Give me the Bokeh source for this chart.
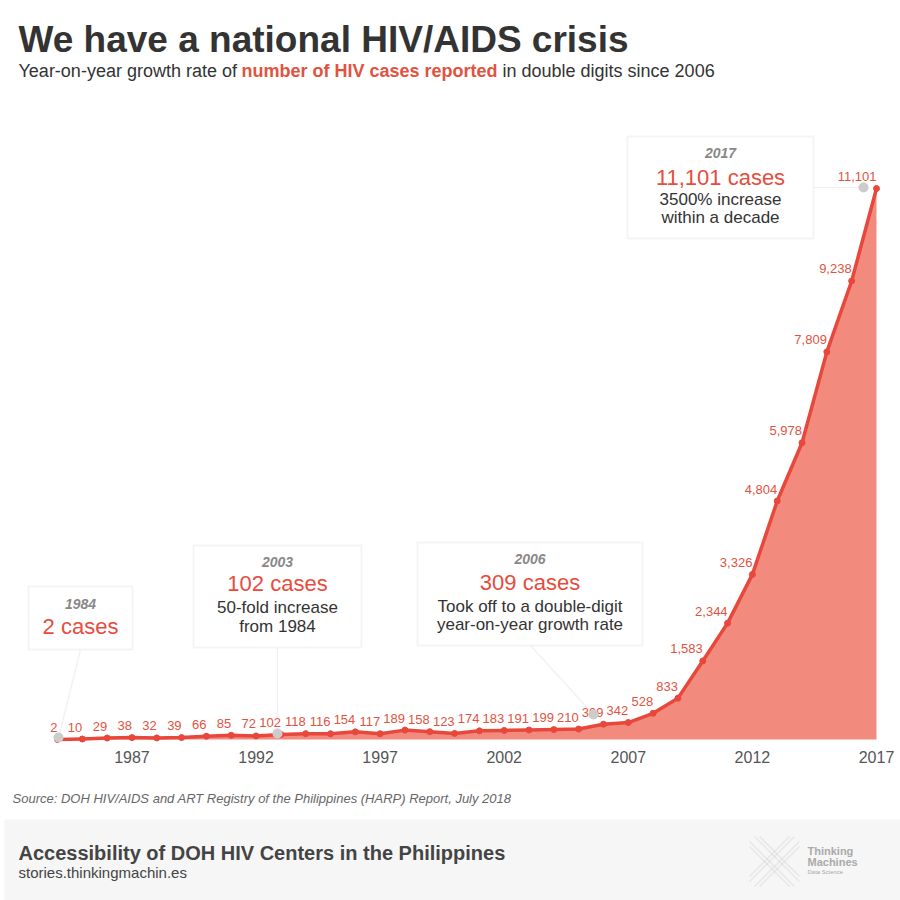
from bokeh.plotting import figure
from bokeh.layouts import column
from bokeh.models import Range1d, FixedTicker, Label, BoxAnnotation, PolyAnnotation, ColumnDataSource
from bokeh.core.properties import value
from bokeh.embed import file_html
from bokeh.resources import INLINE

# ---------------- data ----------------
years = list(range(1984, 2018))
cases = [2, 10, 29, 38, 32, 39, 66, 85, 72, 102,
         118, 116, 154, 117, 189, 158, 123, 174, 183, 191,
         199, 210, 309, 342, 528, 833, 1583, 2344, 3326, 4804,
         5978, 7809, 9238, 11101]
tick_years = [1987, 1992, 1997, 2002, 2007, 2012, 2017]

title = "We have a national HIV/AIDS crisis"
subtitle_parts = ["Year-on-year growth rate of", "number of HIV cases reported", "in double digits since 2006"]
source_text = "Source: DOH HIV/AIDS and ART Registry of the Philippines (HARP) Report, July 2018"
footer_title = "Accessibility of DOH HIV Centers in the Philippines"
footer_url = "stories.thinkingmachin.es"

callout_years = ["1984", "2003", "2006", "2017"]
callout_heads = ["2 cases", "102 cases", "309 cases", "11,101 cases"]
callout_bodies = [[], ["50-fold increase", "from 1984"],
                  ["Took off to a double-digit", "year-on-year growth rate"],
                  ["3500% increase", "within a decade"]]

# ---------------- styling / layout ----------------
FONT = "Liberation Sans"
RED_LINE = "#e8473b"
RED_FILL = "#f28b7e"
RED_TEXT = "#e2533f"
W = 900
HEAD_H = 95          # header band: page y 0..95
CHART_BOTTOM = 780   # chart figure: page y 95..780
FRAME_BOTTOM = 744   # chart frame bottom (page y)
FOOT_H = 900 - CHART_BOTTOM
BASE_FIX = 0.38      # empirical shift so the given y is the alphabetic baseline


def bare_fig(h):
    f = figure(width=W, height=h, output_backend="svg", toolbar_location=None,
               x_range=Range1d(0, W), y_range=Range1d(0, h),
               min_border=0, x_axis_location=None, y_axis_location=None)
    f.outline_line_color = None
    f.grid.visible = False
    f.border_fill_color = "white"
    f.background_fill_color = "white"
    return f


class Canvas:
    def __init__(self, fig, bottom):
        self.f, self.bottom = fig, bottom

    def sy(self, py):
        return self.bottom - py

    def label(self, px, py, text, size, color="#333333", style="normal", align="left"):
        py = py - BASE_FIX * size
        self.f.add_layout(Label(x=px, y=self.sy(py), x_units="screen", y_units="screen",
                                text=text, text_font=FONT, text_font_size=f"{size}px", text_color=color,
                                text_font_style=style, text_align=align, text_baseline="alphabetic"))

    def seg(self, x0, y0, x1, y1, color="#cccccc", width=1.2):
        self.f.add_layout(PolyAnnotation(xs=[x0, x1], ys=[self.sy(y0), self.sy(y1)],
                                         xs_units="screen", ys_units="screen",
                                         fill_alpha=0, line_color=color, line_width=width))

    def box(self, l, t, r, b, fill="white", line="#d9d9d9", lw=2, radius=0):
        self.f.add_layout(BoxAnnotation(left=l, right=r, top=self.sy(t), bottom=self.sy(b),
                                        left_units="screen", right_units="screen",
                                        top_units="screen", bottom_units="screen",
                                        fill_color=fill, fill_alpha=1, line_color=line, line_width=lw,
                                        border_radius=radius))


# ---------------- header ----------------
head = bare_fig(HEAD_H)
hc = Canvas(head, HEAD_H)
hc.label(18, 53, title, 37, "#333333", "bold")
hc.label(18, 77, subtitle_parts[0], 18, "#333333")
hc.label(241, 77, subtitle_parts[1], 18, RED_TEXT, "bold")
hc.label(502, 77, subtitle_parts[2], 18, "#333333")

# ---------------- chart ----------------
PX_PER_YEAR = 24.818
PX_PER_CASE = 0.049635
x0 = 1984 - 57 / PX_PER_YEAR
x1 = x0 + W / PX_PER_YEAR
y0 = -(FRAME_BOTTOM - 739) / PX_PER_CASE
y1 = y0 + (FRAME_BOTTOM - HEAD_H) / PX_PER_CASE

p = figure(width=W, height=CHART_BOTTOM - HEAD_H, output_backend="svg", toolbar_location=None,
           x_range=Range1d(x0, x1), y_range=Range1d(y0, y1),
           min_border_left=0, min_border_right=0, min_border_top=0,
           min_border_bottom=CHART_BOTTOM - FRAME_BOTTOM, y_axis_location=None)
p.outline_line_color = None
p.grid.visible = False
p.background_fill_color = "white"
p.border_fill_color = "white"

ax = p.xaxis[0]
ax.ticker = FixedTicker(ticks=tick_years)
ax.axis_line_color = None
ax.major_tick_line_color = None
ax.minor_tick_line_color = None
ax.major_label_text_font = FONT
ax.major_label_text_font_size = "16px"
ax.major_label_text_color = "#555555"
ax.major_label_standoff = 0

src = ColumnDataSource(dict(x=years, y=cases, lbl=[f"{v:,}" for v in cases]))
p.varea(x="x", y1=0, y2="y", source=src, fill_color=RED_FILL)
p.line(x="x", y="y", source=src, line_color=RED_LINE, line_width=3.5, line_join="round")
p.scatter(x="x", y="y", source=src, size=6, color=RED_LINE)
p.text(x="x", y="y", text="lbl", source=src, text_align="right", text_baseline="alphabetic",
       y_offset=-12, text_font=value(FONT), text_font_size="13px", text_color=RED_TEXT)

cc = Canvas(p, FRAME_BOTTOM)
boxes = [(28, 586, 132, 649), (193, 545, 361, 647), (417, 542, 642, 645), (627, 136, 813, 238)]
connectors = [(80, 649, 58, 737), (277, 647, 277, 733), (530, 645, 593, 714), (813, 187, 863, 187)]
dots = [(58, 737), (277, 733), (593, 714), (863, 187)]
text_rows = [[609, 634], [567, 591, 613, 632], [564, 590, 612, 630], [158, 185, 205, 223]]

for (a, b, c, d) in connectors:
    cc.seg(a, b, c, d)
for (dx, dy) in dots:
    cc.box(dx - 5, dy - 5, dx + 5, dy + 5, fill="#cccccc", line=None, lw=0, radius=5)
for i, (l, t, r, b) in enumerate(boxes):
    cc.box(l, t, r, b)
    cx = (l + r) / 2
    rows = text_rows[i]
    cc.label(cx, rows[0], callout_years[i], 14, "#888888", "bold italic", "center")
    cc.label(cx, rows[1], callout_heads[i], 22, "#e74c3c", "normal", "center")
    for j, line in enumerate(callout_bodies[i]):
        cc.label(cx, rows[2 + j], line, 17, "#333333", "normal", "center")

# ---------------- source & footer ----------------
foot = bare_fig(FOOT_H)
fc = Canvas(foot, 900)
fc.label(12, 803, source_text, 13, "#666666", "italic")
fc.box(4, 819, 900, 900, fill="#f6f6f6", line=None, lw=0)
fc.label(18, 860, footer_title, 20, "#444444", "bold")
fc.label(18, 878, footer_url, 15, "#444444")

# logo: two crossing bands of thin lines
cxl, cyl, hs = 774, 861, 25
for d in [-10, -5, 5, 10]:
    a = abs(d)
    if d > 0:
        fc.seg(cxl - hs + a, cyl - hs, cxl + hs, cyl + hs - a, "#c4c4c4", 1.4)
        fc.seg(cxl + hs - a, cyl - hs, cxl - hs, cyl + hs - a, "#c4c4c4", 1.4)
    else:
        fc.seg(cxl - hs, cyl - hs + a, cxl + hs - a, cyl + hs, "#c4c4c4", 1.4)
        fc.seg(cxl + hs, cyl - hs + a, cxl - hs + a, cyl + hs, "#c4c4c4", 1.4)
fc.label(807, 855, "Thinking", 11, "#aaaaaa", "bold")
fc.label(807, 866, "Machines", 11, "#aaaaaa", "bold")
fc.label(807, 874, "Data Science", 6, "#aaaaaa")

layout = column(head, p, foot, spacing=0)
open("out.html", "w").write(file_html(layout, INLINE))
